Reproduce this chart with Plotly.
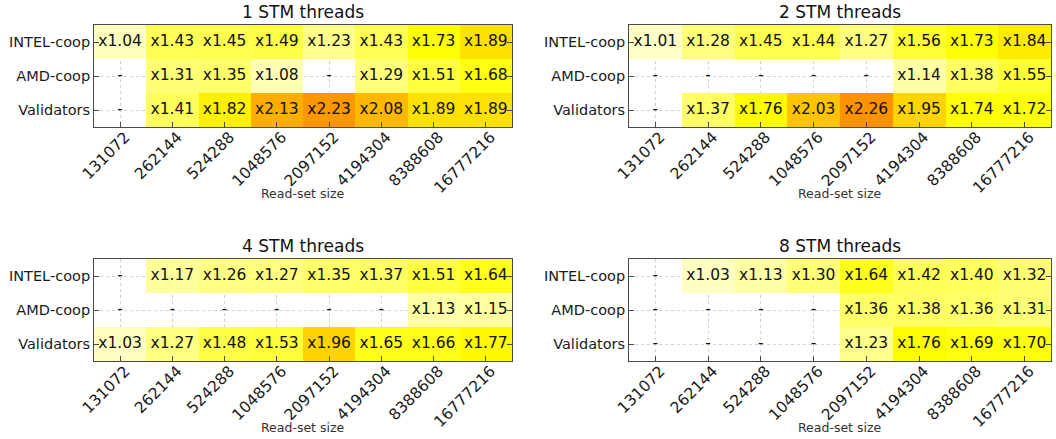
import plotly.graph_objects as go

# Read-set sizes (columns) and STM variants (rows)
read_set_sizes = ["131072", "262144", "524288", "1048576",
                  "2097152", "4194304", "8388608", "16777216"]
variants = ["INTEL-coop", "AMD-coop", "Validators"]
panel_titles = ["1 STM threads", "2 STM threads", "4 STM threads", "8 STM threads"]

NA = None

# Speedups, 1 STM thread
intel_1 = [1.04, 1.43, 1.45, 1.49, 1.23, 1.43, 1.73, 1.89]
amd_1 = [NA, 1.31, 1.35, 1.08, NA, 1.29, 1.51, 1.68]
valid_1 = [NA, 1.41, 1.82, 2.13, 2.23, 2.08, 1.89, 1.89]

# Speedups, 2 STM threads
intel_2 = [1.01, 1.28, 1.45, 1.44, 1.27, 1.56, 1.73, 1.84]
amd_2 = [NA, NA, NA, NA, NA, 1.14, 1.38, 1.55]
valid_2 = [NA, 1.37, 1.76, 2.03, 2.26, 1.95, 1.74, 1.72]

# Speedups, 4 STM threads
intel_4 = [NA, 1.17, 1.26, 1.27, 1.35, 1.37, 1.51, 1.64]
amd_4 = [NA, NA, NA, NA, NA, NA, 1.13, 1.15]
valid_4 = [1.03, 1.27, 1.48, 1.53, 1.96, 1.65, 1.66, 1.77]

# Speedups, 8 STM threads
intel_8 = [NA, 1.03, 1.13, 1.30, 1.64, 1.42, 1.40, 1.32]
amd_8 = [NA, NA, NA, NA, 1.36, 1.38, 1.36, 1.31]
valid_8 = [NA, NA, NA, NA, 1.23, 1.76, 1.69, 1.70]

panels = [
    [intel_1, amd_1, valid_1],
    [intel_2, amd_2, valid_2],
    [intel_4, amd_4, valid_4],
    [intel_8, amd_8, valid_8],
]

# white -> yellow -> red colour ramp
colorscale = [[0.0, "#ffffff"], [0.44, "#ffff00"], [1.0, "#ff0000"]]
ZMIN, ZMAX = 0.8, 2.95

W, H = 1056, 439
x_domains = [[94 / W, 512 / W], [629 / W, 1051 / W]]
y_domains = [[1 - 127 / H, 1 - 25 / H], [1 - 361 / H, 1 - 259 / H]]
title_y = [1 - 12 / H, 1 - 246 / H]
xlabel_y = [1 - 193 / H, 1 - 427 / H]

FONT = "DejaVu Sans"
AXIS_COLOR = "#4a4a4a"
GRID_COLOR = "#d0d0d0"

fig = go.Figure()
layout = dict(
    width=W, height=H,
    margin=dict(l=0, r=0, t=0, b=0, autoexpand=False),
    paper_bgcolor="white", plot_bgcolor="white",
    showlegend=False,
    font=dict(family=FONT, color="#222222"),
    annotations=[],
)

xs = list(range(len(read_set_sizes)))
ys = list(range(len(variants)))

for i, rows in enumerate(panels):
    r, c = divmod(i, 2)
    suffix = "" if i == 0 else str(i + 1)
    xref, yref = "x" + suffix, "y" + suffix

    fig.add_trace(go.Heatmap(
        z=rows, x=xs, y=ys,
        colorscale=colorscale, zmin=ZMIN, zmax=ZMAX,
        showscale=False, hoverongaps=False,
        xaxis=xref, yaxis=yref,
    ))

    tx, ty, tt = [], [], []
    for yi, row in enumerate(rows):
        for xi, v in enumerate(row):
            tx.append(xi)
            ty.append(yi)
            tt.append("-" if v is None else "x%.2f" % v)
    fig.add_trace(go.Scatter(
        x=tx, y=ty, text=tt, mode="text",
        textfont=dict(family=FONT, size=15.5, color="#111111"),
        textposition="middle center",
        hoverinfo="skip",
        xaxis=xref, yaxis=yref,
    ))

    layout["xaxis" + suffix] = dict(
        domain=x_domains[c], anchor=yref, automargin=False,
        range=[-0.5, len(read_set_sizes) - 0.5],
        tickmode="array", tickvals=xs, ticktext=read_set_sizes,
        tickangle=-45, tickfont=dict(size=15.5, color="#1a1a1a"),
        ticklabelshift=5, ticklabelstandoff=-6,
        ticks="inside", ticklen=5, tickcolor=AXIS_COLOR,
        showline=True, linecolor=AXIS_COLOR, linewidth=1, mirror=True,
        showgrid=True, gridcolor=GRID_COLOR, griddash="dot", gridwidth=0.8,
        zeroline=False, fixedrange=True,
    )
    layout["yaxis" + suffix] = dict(
        domain=y_domains[r], anchor=xref, automargin=False,
        range=[len(variants) - 0.5, -0.5],
        tickmode="array", tickvals=ys, ticktext=variants,
        tickfont=dict(size=14.5, color="#1a1a1a"),
        ticks="inside", ticklen=5, tickcolor=AXIS_COLOR,
        showline=True, linecolor=AXIS_COLOR, linewidth=1, mirror="ticks",
        showgrid=True, gridcolor=GRID_COLOR, griddash="dot", gridwidth=0.8,
        zeroline=False, fixedrange=True,
    )

    cx = (x_domains[c][0] + x_domains[c][1]) / 2
    layout["annotations"].append(dict(
        text=panel_titles[i], x=cx, y=title_y[r], xref="paper", yref="paper",
        xanchor="center", yanchor="middle", showarrow=False,
        font=dict(family=FONT, size=17, color="#111111"),
    ))
    layout["annotations"].append(dict(
        text="Read-set size", x=cx, y=xlabel_y[r], xref="paper", yref="paper",
        xanchor="center", yanchor="middle", showarrow=False,
        font=dict(family=FONT, size=12.5, color="#333333"),
    ))

fig.update_layout(**layout)
fig.write_html("out.html")
